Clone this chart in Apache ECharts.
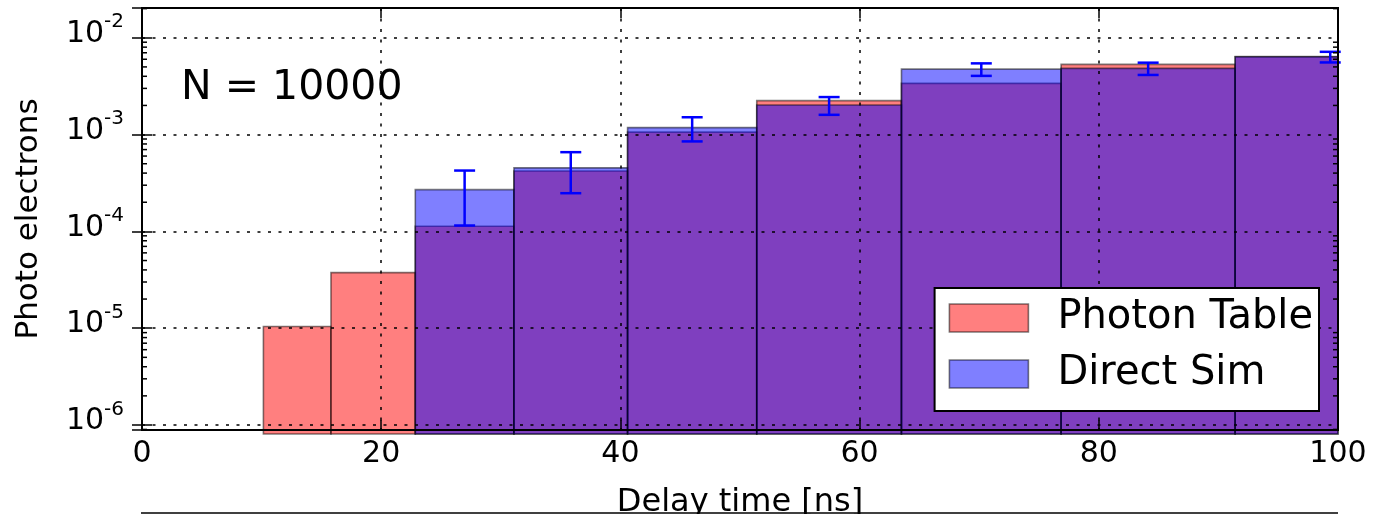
<!DOCTYPE html>
<html>
<head>
<meta charset="utf-8">
<script src="https://cdn.jsdelivr.net/npm/echarts@6/dist/echarts.min.js"></script>
<style>
  html, body { margin: 0; padding: 0; background: #fff; }
  #chart { width: 1383px; height: 514px; }
</style>
</head>
<body>
<div id="chart"></div>
<script>
// Histogram bin edges along the delay-time axis [ns]
const binEdges = [10.15, 15.8, 22.85, 31.1, 40.6, 51.4, 63.5, 76.85, 91.4, 107.3];
// Photo electrons per bin
const photonTable = [1.04e-5, 3.75e-5, 1.13e-4, 4.2e-4, 1.06e-3, 2.24e-3, 3.38e-3, 5.31e-3, 6.38e-3];
const directSim   = [0, 0, 2.7e-4, 4.53e-4, 1.18e-3, 2.02e-3, 4.74e-3, 4.83e-3, 6.36e-3];
const directSimErr = [0, 0, 1.55e-4, 2.05e-4, 3.3e-4, 4.2e-4, 7.0e-4, 7.0e-4, 8.0e-4];
// Axis settings
const xTicks = [0, 20, 40, 60, 80, 100];
const yRange = [8.88e-7, 0.0203];
const seriesNames = ['Photon Table', 'Direct Sim'];
const annotation = 'N = 10000';

const FONT = 'DejaVu Sans';
const RED = 'rgba(255,0,0,0.5)';
const BLUE = 'rgba(0,0,255,0.5)';
const EDGE = 'rgba(0,0,0,0.5)';

function histData(values) {
  const out = [];
  for (let i = 0; i < values.length; i++) {
    if (values[i] > 0) out.push([binEdges[i], binEdges[i + 1], values[i]]);
  }
  return out;
}

function errData() {
  const out = [];
  for (let i = 0; i < directSim.length; i++) {
    if (directSim[i] > 0 && directSimErr[i] > 0) {
      out.push([(binEdges[i] + binEdges[i + 1]) / 2, directSim[i], directSimErr[i]]);
    }
  }
  return out;
}

// log minor ticks: 2..9 x 10^n inside the visible range
const minorTicks = [];
for (let n = -7; n <= -1; n++) {
  for (let k = 2; k <= 9; k++) {
    const v = k * Math.pow(10, n);
    if (v > yRange[0] && v < yRange[1]) minorTicks.push([0, v]);
  }
}

function barRenderer(fill) {
  return function (params, api) {
    const x0 = api.value(0), x1 = api.value(1), y = api.value(2);
    const p0 = api.coord([x0, y]);
    const p1 = api.coord([x1, y]);
    const cs = params.coordSys;
    const bottom = cs.y + cs.height + 4;
    const shape = echarts.graphic.clipRectByRect(
      { x: p0[0], y: p0[1], width: p1[0] - p0[0], height: bottom - p0[1] },
      { x: cs.x - 2, y: cs.y, width: cs.width + 2, height: cs.height + 4 }
    );
    if (!shape) return null;
    return {
      type: 'rect',
      shape: shape,
      style: { fill: fill, stroke: EDGE, lineWidth: 1.6 }
    };
  };
}

const chart = echarts.init(document.getElementById('chart'), null, { renderer: 'canvas' });

const xAxisCommon = {
  type: 'value',
  min: xTicks[0],
  max: xTicks[xTicks.length - 1],
  interval: 20,
  z: 5
};
const yAxisCommon = {
  type: 'log',
  logBase: 10,
  min: yRange[0],
  max: yRange[1],
  z: 5
};

const option = {
  animation: false,
  backgroundColor: '#fff',
  grid: {
    left: 142, right: 45, top: 8, bottom: 84,
    outerBoundsMode: 'none',
    containLabel: false,
    show: true,
    borderColor: '#000',
    borderWidth: 2,
    backgroundColor: 'transparent',
    z: 10
  },
  legend: {
    orient: 'vertical',
    right: 64,
    top: 288,
    z: 20,
    backgroundColor: '#fff',
    borderColor: '#000',
    borderWidth: 2,
    borderRadius: 0,
    padding: [10, 6, 17, 14],
    itemWidth: 79,
    itemHeight: 28,
    itemGap: 16,
    selectedMode: false,
    textStyle: { fontFamily: FONT, fontSize: 40, color: '#000', lineHeight: 40, padding: [0, 0, 0, 24] },
    data: [
      { name: seriesNames[0], icon: 'rect', itemStyle: { color: RED, borderColor: EDGE, borderWidth: 1.6 } },
      { name: seriesNames[1], icon: 'rect', itemStyle: { color: BLUE, borderColor: EDGE, borderWidth: 1.6 } }
    ]
  },
  xAxis: [
    Object.assign({}, xAxisCommon, {
      position: 'bottom',
      name: 'Delay time [ns]',
      nameLocation: 'middle',
      nameGap: 57,
      nameTextStyle: { fontFamily: FONT, fontSize: 32, color: '#000' },
      axisLine: { show: false },
      axisTick: { show: true, inside: true, length: 10, lineStyle: { color: '#000', width: 1.5 } },
      axisLabel: { show: true, margin: 9, fontFamily: FONT, fontSize: 30, color: '#000' },
      splitLine: { show: true, lineStyle: { color: '#000', width: 1.5, type: [3, 7.5] } }
    }),
    Object.assign({}, xAxisCommon, {
      position: 'top',
      axisLine: { show: false },
      axisTick: { show: true, inside: true, length: 10, lineStyle: { color: '#000', width: 1.5 } },
      axisLabel: { show: false },
      splitLine: { show: false }
    })
  ],
  yAxis: [
    Object.assign({}, yAxisCommon, {
      position: 'left',
      name: 'Photo electrons',
      nameLocation: 'middle',
      nameGap: 98,
      nameRotate: 90,
      nameTextStyle: { fontFamily: FONT, fontSize: 31, color: '#000' },
      axisLine: { show: false },
      axisTick: { show: true, inside: true, length: 10, lineStyle: { color: '#000', width: 1.5 } },
      axisLabel: {
        show: true,
        margin: 18,
        fontFamily: FONT,
        fontSize: 30,
        color: '#000',
        padding: [0, 0, 7, 0],
        formatter: function (v) {
          const lg = Math.log10(v);
          const e = Math.round(lg);
          if (Math.abs(lg - e) > 1e-6) return '';
          return '{b|10}{s|' + String(e) + '}';
        },
        rich: {
          b: { fontFamily: FONT, fontSize: 30, lineHeight: 30, color: '#000', verticalAlign: 'bottom' },
          s: { fontFamily: FONT, fontSize: 20, lineHeight: 20, color: '#000', verticalAlign: 'bottom', padding: [0, 0, 17, 0] }
        }
      },
      splitLine: { show: true, lineStyle: { color: '#000', width: 1.5, type: [3, 7.5] } }
    }),
    Object.assign({}, yAxisCommon, {
      position: 'right',
      axisLine: { show: false },
      axisTick: { show: true, inside: true, length: 10, lineStyle: { color: '#000', width: 1.5 } },
      axisLabel: { show: false },
      splitLine: { show: false }
    })
  ],
  graphic: [
    {
      type: 'text',
      left: 181,
      top: 68,
      z: 30,
      style: { text: annotation, fontFamily: FONT, fontSize: 41, fill: '#000' }
    },
    {
      type: 'line',
      z: 30,
      shape: { x1: 141, y1: 513, x2: 1338, y2: 513 },
      style: { stroke: '#000', lineWidth: 1.5 }
    }
  ],
  series: [
    {
      name: seriesNames[0],
      type: 'custom',
      xAxisIndex: 0, yAxisIndex: 0,
      z: 2,
      itemStyle: { color: RED },
      encode: { x: [0, 1], y: 2 },
      renderItem: barRenderer(RED),
      data: histData(photonTable)
    },
    {
      name: seriesNames[1],
      type: 'custom',
      xAxisIndex: 0, yAxisIndex: 0,
      z: 3,
      itemStyle: { color: BLUE },
      encode: { x: [0, 1], y: 2 },
      renderItem: barRenderer(BLUE),
      data: histData(directSim)
    },
    {
      name: 'Direct Sim errors',
      type: 'custom',
      xAxisIndex: 0, yAxisIndex: 0,
      z: 8,
      encode: { x: 0, y: 1 },
      renderItem: function (params, api) {
        const x = api.value(0), y = api.value(1), e = api.value(2);
        const top = api.coord([x, y + e]);
        const bot = api.coord([x, y - e]);
        const cap = 10.5;
        const st = { stroke: '#0000ff', lineWidth: 2.5 };
        return {
          type: 'group',
          children: [
            { type: 'line', shape: { x1: top[0], y1: top[1], x2: bot[0], y2: bot[1] }, style: st },
            { type: 'line', shape: { x1: top[0] - cap, y1: top[1], x2: top[0] + cap, y2: top[1] }, style: st },
            { type: 'line', shape: { x1: bot[0] - cap, y1: bot[1], x2: bot[0] + cap, y2: bot[1] }, style: st }
          ]
        };
      },
      data: errData()
    },
    {
      name: 'minor ticks',
      type: 'custom',
      xAxisIndex: 0, yAxisIndex: 0,
      z: 9,
      silent: true,
      encode: { x: 0, y: 1 },
      renderItem: function (params, api) {
        const cs = params.coordSys;
        const p = api.coord([0, api.value(1)]);
        const st = { stroke: '#000', lineWidth: 1.5 };
        return {
          type: 'group',
          children: [
            { type: 'line', shape: { x1: cs.x, y1: p[1], x2: cs.x + 5, y2: p[1] }, style: st },
            { type: 'line', shape: { x1: cs.x + cs.width - 5, y1: p[1], x2: cs.x + cs.width, y2: p[1] }, style: st }
          ]
        };
      },
      data: minorTicks
    }
  ]
};

chart.setOption(option);
</script>
</body>
</html>
